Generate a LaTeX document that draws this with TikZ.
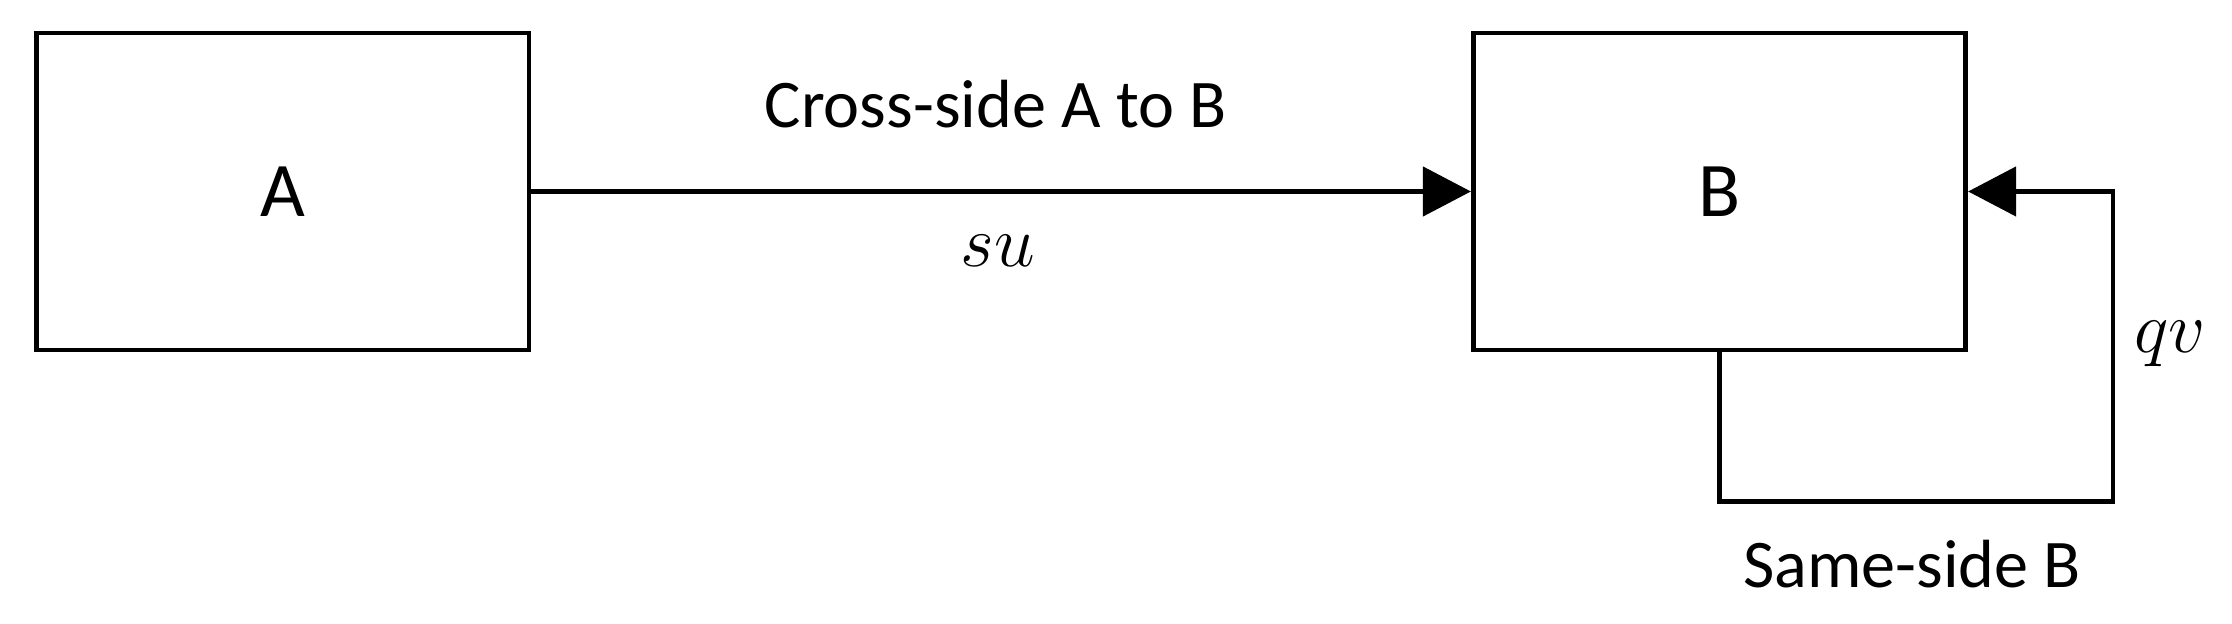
\documentclass[tikz,border=0pt]{standalone}
\usepackage{fontspec}
\setmainfont{Carlito}
\usepackage{tikz}
\usetikzlibrary{arrows.meta}
\tikzset{box/.style={draw, line width=1.34pt, minimum width=4.925cm, minimum height=3.17cm, inner sep=0pt, font=\fontsize{22}{26}\selectfont}}
\tikzset{lbl/.style={anchor=base, inner sep=0pt, font=\fontsize{19.4}{23}\selectfont}}
\tikzset{flow/.style={line width=1.34pt, -{Triangle[length=0.48cm,width=0.49cm]}}}

\begin{document}
\begin{tikzpicture}
\useasboundingbox (0,0) rectangle (22.32,6.24);
\foreach \n/\x in {A/2.8275, B/17.195} {
 \node[box] (\n) at (\x,4.325) {\n};
}
\coordinate (loop) at (21.13,1.225);
\draw[flow] (A.east) -- (B.west);
\draw[flow] (B.south) |- (loop) |- (B.east);
\node[lbl] (cross) at (9.96,4.96) {Cross-side A to B};
\node[lbl] (su) at (9.98,3.57) {$su$};
\node[lbl] (qv) at (21.70,2.71) {$qv$};
\node[lbl] (same) at (19.12,0.36) {Same-side B};
\end{tikzpicture}
\end{document}
